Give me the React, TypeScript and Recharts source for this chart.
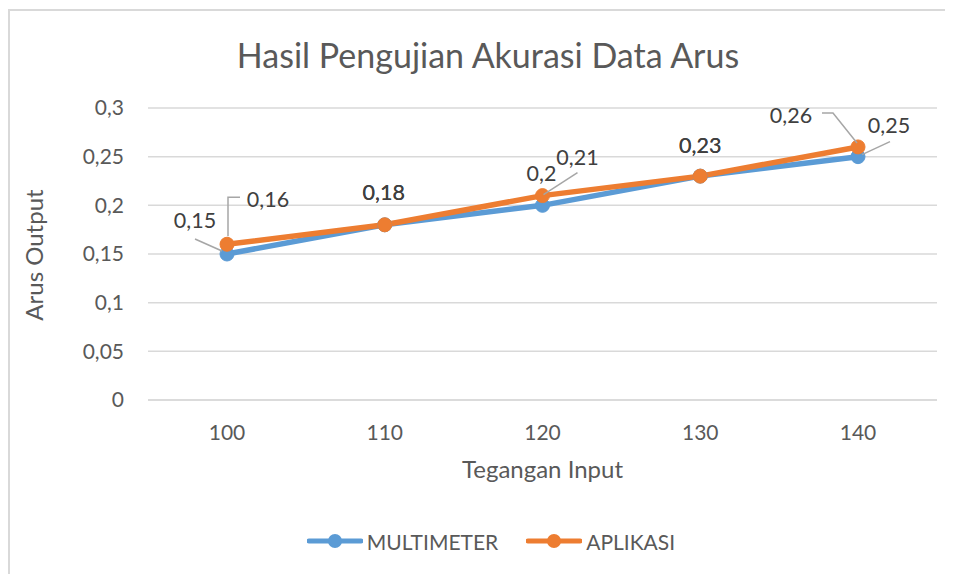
import { LineChart, Line, XAxis, YAxis, CartesianGrid, Legend } from "recharts";

const FONT = "Lato, 'Open Sans', sans-serif";

const categories = [100, 110, 120, 130, 140];
const multimeter = [0.15, 0.18, 0.2, 0.23, 0.25];
const aplikasi = [0.16, 0.18, 0.21, 0.23, 0.26];
const yTicks = [0, 0.05, 0.1, 0.15, 0.2, 0.25, 0.3];

const data = categories.map((c, i) => ({
  tegangan: c,
  multimeter: multimeter[i],
  aplikasi: aplikasi[i],
}));

const BLUE = "#5B9BD5";
const ORANGE = "#ED7D31";

// Excel-style data callouts: label offset from the point, optional leader line
type Callout = { dx: number; dy: number; leader?: number[][] };
const multimeterCallouts: Callout[] = [
  { dx: -32, dy: -34, leader: [[-32, -15], [-5, -3]] },
  { dx: -1, dy: -33 },
  { dx: -1, dy: -32 },
  { dx: 0, dy: -31 },
  { dx: 31, dy: -32, leader: [[32, -15], [4, -2]] },
];
const aplikasiCallouts: Callout[] = [
  { dx: 41, dy: -45, leader: [[13, -47], [1, -47], [1, -8]] },
  { dx: -1, dy: -33 },
  { dx: 35, dy: -39, leader: [[35, -23], [1, -1]] },
  { dx: 0, dy: -31 },
  { dx: -67, dy: -32, leader: [[-36, -34], [-25, -34], [-1, -4]] },
];

const fmt = (v: number) => String(v).replace(".", ",");

const makeLabel = (callouts: Callout[]) => (props: any) => {
  const { x, y, value, index } = props;
  const c = callouts[index];
  if (!c || x == null || y == null) return null;
  return (
    <g key={`lbl-${index}`}>
      {c.leader && (
        <polyline
          points={c.leader.map(([a, b]) => `${x + a},${y + b}`).join(" ")}
          fill="none"
          stroke="#a6a6a6"
          strokeWidth={1.5}
        />
      )}
      <text x={x + c.dx} y={y + c.dy} dy={8} textAnchor="middle" fontSize={21.5} fill="#404040" fontFamily={FONT}>
        {fmt(value)}
      </text>
    </g>
  );
};

const renderLegend = () => {
  const items = [
    { name: "MULTIMETER", color: BLUE },
    { name: "APLIKASI", color: ORANGE },
  ];
  return (
    <div style={{ height: 24, display: "flex", alignItems: "center", justifyContent: "center", gap: 28, paddingLeft: 25 }}>
      {items.map((it) => (
        <div key={it.name} style={{ display: "flex", alignItems: "center" }}>
          <svg width={56} height={20}>
            <line x1={2} y1={10} x2={54} y2={10} stroke={it.color} strokeWidth={5} strokeLinecap="round" />
            <circle cx={28} cy={10} r={7} fill={it.color} />
          </svg>
          <span style={{ marginLeft: 4, fontSize: 21, color: "#595959", fontFamily: FONT }}>{it.name}</span>
        </div>
      ))}
    </div>
  );
};

export default function App() {
  return (
    <div
      style={{
        position: "relative",
        width: 943,
        height: 563,
        marginTop: 1,
        borderTop: "2px solid #d9d9d9",
        borderLeft: "2px solid #d9d9d9",
        background: "#fff",
        fontFamily: FONT,
      }}
    >
      <style>{`body{overflow:hidden}`}</style>
      <div
        style={{
          position: "absolute",
          left: 0,
          width: 956,
          top: 24,
          lineHeight: "40px",
          textAlign: "center",
          fontSize: 34,
          color: "#595959",
        }}
      >
        Hasil Pengujian Akurasi Data Arus
      </div>
      <LineChart width={943} height={563} data={data} margin={{ top: 97, right: 16, left: 10, bottom: 21 }}>
        <CartesianGrid vertical={false} stroke="#d9d9d9" strokeWidth={1.5} />
        <XAxis
          dataKey="tegangan"
          padding={{ left: 79, right: 79 }}
          height={129}
          axisLine={{ stroke: "#d9d9d9", strokeWidth: 1.5 }}
          tickLine={false}
          tickMargin={19}
          tick={{ fontSize: 21, fill: "#595959", fontFamily: FONT }}
          label={{
            content: (p: any) => {
              const vb = p.viewBox || {};
              return (
                <text x={vb.x + vb.width / 2} y={vb.y + 70} dy={8} textAnchor="middle" fontSize={24} fill="#595959" fontFamily={FONT}>
                  Tegangan Input
                </text>
              );
            },
          }}
        />
        <YAxis
          width={128}
          domain={[0, 0.3]}
          ticks={yTicks}
          tickFormatter={fmt}
          axisLine={false}
          tickLine={false}
          tickMargin={18}
          tick={{ fontSize: 21, fill: "#595959", fontFamily: FONT }}
          label={{
            content: () => (
              <text x={25} y={244} transform="rotate(-90 25 244)" dy={8} textAnchor="middle" fontSize={24} fill="#595959" fontFamily={FONT}>
                Arus Output
              </text>
            ),
          }}
        />
        <Legend verticalAlign="bottom" height={24} content={renderLegend} />
        <Line
          dataKey="multimeter"
          name="MULTIMETER"
          stroke={BLUE}
          strokeWidth={5.5}
          dot={{ r: 7, fill: BLUE, stroke: BLUE, strokeWidth: 1 }}
          isAnimationActive={false}
          label={makeLabel(multimeterCallouts)}
        />
        <Line
          dataKey="aplikasi"
          name="APLIKASI"
          stroke={ORANGE}
          strokeWidth={5.5}
          dot={{ r: 7, fill: ORANGE, stroke: ORANGE, strokeWidth: 1 }}
          isAnimationActive={false}
          label={makeLabel(aplikasiCallouts)}
        />
      </LineChart>
    </div>
  );
}
